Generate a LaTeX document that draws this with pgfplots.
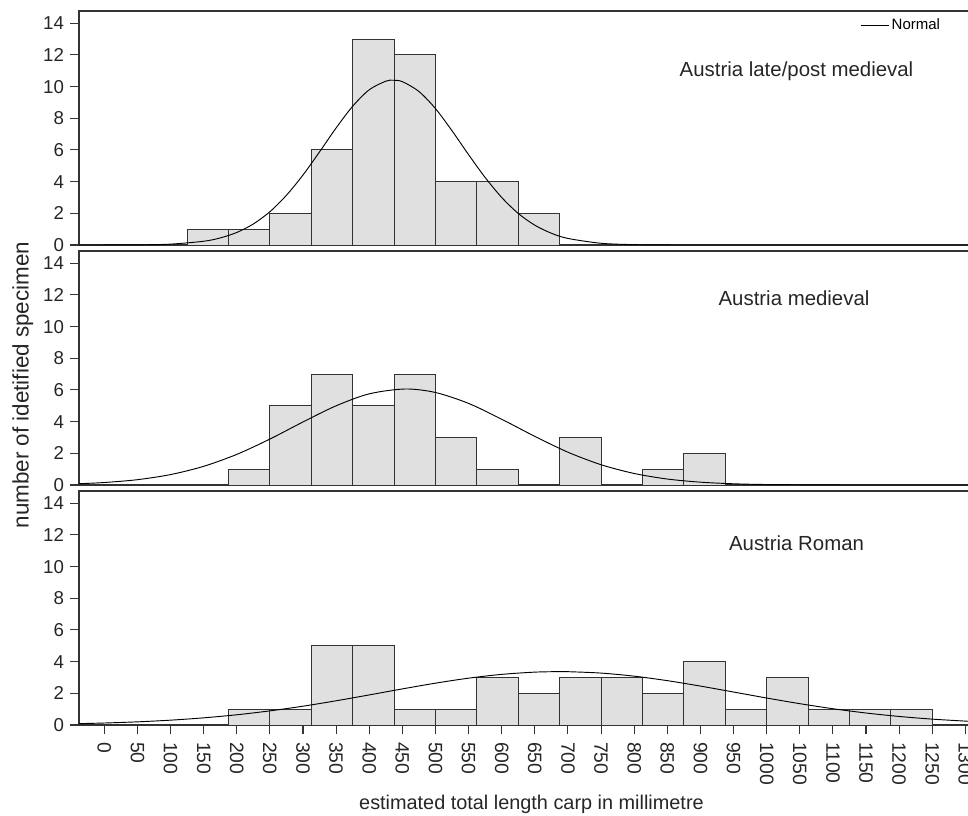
\documentclass[border=0pt]{standalone}
\usepackage{fontspec}
\setmainfont{Liberation Sans}
\usepackage{pgfplots}
\pgfplotsset{compat=1.18}
\definecolor{barfill}{HTML}{E0E0E0}
\definecolor{edge}{HTML}{333333}
\pgfplotsset{
  panel/.style={
    scale only axis, anchor=north west,
    width=669.75pt, height=175.5pt,
    xmin=-38.2, xmax=1310, ymin=0, ymax=14.77,
    axis line style={draw=edge, line width=0.9pt},
    tick style={draw=edge, line width=0.8pt},
    tick align=outside, major tick length=6.75pt,
    ytick={0,2,...,14}, ytick pos=left,
    /pgf/number format/assume math mode=true,
    /pgf/number format/1000 sep={},
    yticklabel style={font=\fontsize{14}{15}\selectfont, text=black!85, xshift=-1pt},
    xticklabel style={font=\fontsize{14.5}{16}\selectfont, text=black!85, rotate=-90, anchor=west, xshift=2.5pt},
    clip=true,
  },
  bars/.style={ybar, bar width=62.5, bar shift=0pt, fill=barfill, draw=edge, line width=0.7pt},
  curve/.style={black, line width=0.7pt, smooth, mark=none},
}
\begin{document}
\begin{tikzpicture}
% ---------- Panel 1: late/post medieval
\begin{axis}[panel, at={(59.25pt,-8.25pt)}, xtick=\empty,
  legend style={at={(0.9675,0.94)}, anchor=east, draw=none, fill=none,
    font=\fontsize{11.25}{12}\selectfont, inner sep=0pt},
  legend image code/.code={\draw[black, line width=0.7pt] (0,0) -- (21pt,0);}]
\addplot[bars, forget plot] coordinates {(156.25,1)(218.75,1)(281.25,2)(343.75,6)(406.25,13)(468.75,12)(531.25,4)(593.75,4)(656.25,2)};
\addplot[curve] coordinates {(-38,0)(50,0.011)(100,0.056)(150,0.237)(175,0.446)(200,0.792)(225,1.328)(250,2.10)(275,3.14)(300,4.42)(325,5.88)(350,7.39)(375,8.76)(400,9.80)(425,10.34)(436,10.4)(450,10.31)(475,9.69)(500,8.61)(525,7.21)(550,5.70)(575,4.26)(600,3.00)(625,1.99)(650,1.25)(675,0.742)(700,0.415)(750,0.109)(800,0.023)(850,0.004)(900,0)(1310,0)};
\addlegendentry{Normal}
\node[anchor=base, font=\fontsize{15.3}{17}\selectfont, text=black!85] at (axis description cs:0.8035,0.7222) {Austria late/post medieval};
\end{axis}
% ---------- Panel 2: medieval
\begin{axis}[panel, at={(59.25pt,-188.25pt)}, xtick=\empty]
\addplot[bars] coordinates {(218.75,1)(281.25,5)(343.75,7)(406.25,5)(468.75,7)(531.25,3)(593.75,1)(718.75,3)(843.75,1)(906.25,2)};
\addplot[curve] coordinates {(-38,0.083)(0,0.157)(50,0.336)(100,0.658)(150,1.179)(200,1.933)(250,2.90)(300,3.98)(350,5.00)(400,5.755)(454,6.06)(500,5.84)(550,5.15)(600,4.15)(650,3.07)(700,2.07)(750,1.28)(800,0.727)(850,0.377)(900,0.179)(950,0.078)(1000,0.031)(1100,0.004)(1200,0)(1310,0)};
\node[anchor=base, font=\fontsize{15.3}{17}\selectfont, text=black!85] at (axis description cs:0.8007,0.769) {Austria medieval};
\end{axis}
% ---------- Panel 3: Roman
\begin{axis}[panel, at={(59.25pt,-368.25pt)}, xtick={0,50,...,1300}, xtick pos=bottom]
\addplot[bars] coordinates {(218.75,1)(281.25,1)(343.75,5)(406.25,5)(468.75,1)(531.25,1)(593.75,3)(656.25,2)(718.75,3)(781.25,3)(843.75,2)(906.25,4)(968.75,1)(1031.25,3)(1093.75,1)(1156.25,1)(1218.75,1)};
\addplot[curve] coordinates {(-38,0.087)(0,0.126)(50,0.200)(100,0.306)(150,0.453)(200,0.646)(250,0.892)(300,1.188)(350,1.529)(400,1.899)(450,2.279)(500,2.642)(550,2.957)(600,3.197)(650,3.338)(687,3.37)(700,3.366)(750,3.278)(800,3.083)(850,2.80)(900,2.457)(950,2.082)(1000,1.704)(1050,1.347)(1100,1.028)(1150,0.758)(1200,0.540)(1250,0.371)(1300,0.246)(1310,0.225)};
\node[anchor=base, font=\fontsize{15.3}{17}\selectfont, text=black!85] at (axis description cs:0.8035,0.745) {Austria Roman};
\end{axis}
% ---------- axis titles
\node[rotate=90, anchor=base, font=\fontsize{16.8}{18}\selectfont, text=black!85] at (21.5pt,-288.75pt) {number of idetified specimen};
\node[anchor=base, font=\fontsize{14.9}{17}\selectfont, text=black!85] at (398.6pt,-607pt) {estimated total length carp in millimetre};
\pgfresetboundingbox
\useasboundingbox (0,0) rectangle (726pt,-611.25pt);
\end{tikzpicture}
\end{document}
